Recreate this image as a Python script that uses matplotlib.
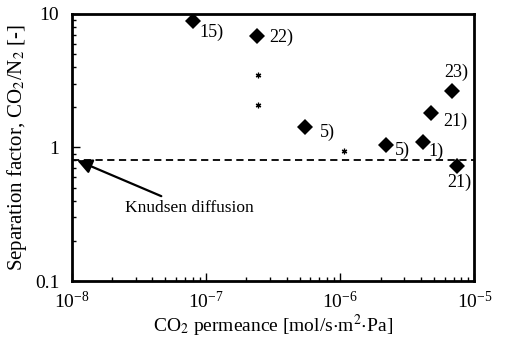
import matplotlib.pyplot as plt
from matplotlib.ticker import LogLocator, NullFormatter

plt.rcParams['font.family'] = 'Liberation Serif'
plt.rcParams['mathtext.fontset'] = 'stix'

# membrane data, CO2 permeance [mol/s m2 Pa] vs CO2/N2 separation factor
perm = [8.0e-8, 2.41e-7, 5.46e-7, 2.21e-6, 4.11e-6, 4.73e-6, 6.84e-6, 7.36e-6]
sep = [8.87, 6.88, 1.43, 1.04, 1.10, 1.81, 2.63, 0.73]
refs = ['15)', '22)', '5)', '5)', '1)', '21)', '23)', '21)']

# points without a reference number
perm_star = [2.44e-7, 2.44e-7, 1.07e-6]
sep_star = [3.49, 2.08, 0.946]

knudsen = 0.80

fig = plt.figure(figsize=(5.08, 3.39), dpi=100)
ax = fig.add_axes([0.141, 0.171, 0.793, 0.788])

ax.plot(perm, sep, 'D', color='black', ms=8, markeredgewidth=0)
ax.plot(perm_star, sep_star, marker=(6, 2, 0), ls='none', color='black', ms=4, markeredgewidth=0.9)
ax.axhline(knudsen, color='black', ls=(0, (4, 2.5)), lw=1.3)

# label offsets in points
offsets = [(4.5, -8), (9, -1.5), (11, -4), (6, -4), (4, -6.5), (9, -6), (-6, 14), (-7, -12)]
for x, y, r, off in zip(perm, sep, refs, offsets):
    ax.annotate(r, (x, y), xytext=off, textcoords='offset points', fontsize=13,
                va='center', ha='left')

ax.annotate('Knudsen diffusion', xy=(1.1e-8, knudsen), xytext=(2.49e-8, 0.352),
            fontsize=12.5, va='center', ha='left',
            arrowprops=dict(arrowstyle='-|>', color='black', lw=1.6,
                            mutation_scale=22, shrinkA=2, shrinkB=0))

ax.set_xscale('log')
ax.set_yscale('log')
ax.set_xlim(1e-8, 1e-5)
ax.set_ylim(0.1, 10)
ax.set_yticks([0.1, 1, 10])
ax.set_yticklabels(['0.1', '1', '10'])
ax.xaxis.set_minor_locator(LogLocator(subs=range(2, 10)))
ax.yaxis.set_minor_locator(LogLocator(subs=range(2, 10)))
ax.xaxis.set_minor_formatter(NullFormatter())
ax.yaxis.set_minor_formatter(NullFormatter())
ax.tick_params(which='both', direction='in', top=False, right=False, labelsize=14, width=1)
ax.tick_params(which='major', length=6)
ax.tick_params(which='minor', length=3)
ax.tick_params(axis='x', which='major', pad=7)
ax.tick_params(axis='y', which='major', pad=9)
for s in ax.spines.values():
    s.set_linewidth(2)

ax.set_xlabel('CO$_2$ permeance [mol/s$\\cdot$m$^2$$\\cdot$Pa]', fontsize=14, labelpad=1)
ax.set_ylabel('Separation factor, CO$_2$/N$_2$ [-]', fontsize=15, labelpad=4)

plt.savefig('out.png', dpi=100)
